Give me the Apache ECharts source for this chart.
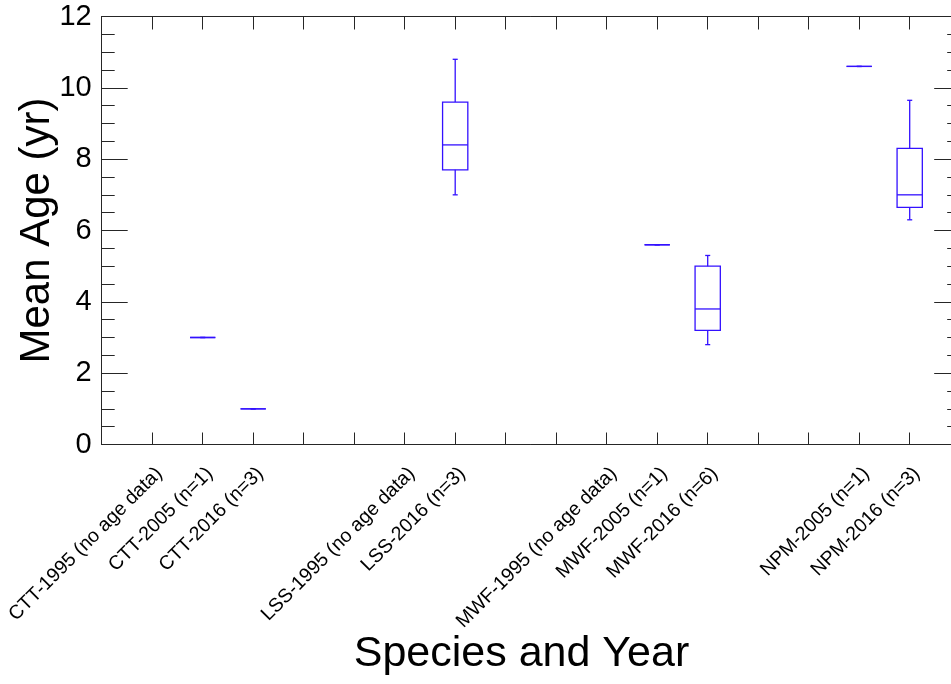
<!DOCTYPE html>
<html>
<head>
<meta charset="utf-8">
<title>Mean Age by Species and Year</title>
<script src="https://cdn.jsdelivr.net/npm/echarts@6/dist/echarts.min.js"></script>
<style>
  html, body { margin: 0; padding: 0; background: #fff; overflow: hidden; }
  /* The plot frame runs slightly past the right edge of the window. */
  #main { width: 980px; height: 684px; }
</style>
</head>
<body>
<div id="main"></div>
<script>
// Slots along the x axis (0..17); blank slots separate the species groups.
const slotLabels = [
  '',
  'CTT-1995 (no age data)', 'CTT-2005 (n=1)', 'CTT-2016 (n=3)',
  '', '',
  'LSS-1995 (no age data)', 'LSS-2016 (n=3)',
  '', '',
  'MWF-1995 (no age data)', 'MWF-2005 (n=1)', 'MWF-2016 (n=6)',
  '', '',
  'NPM-2005 (n=1)', 'NPM-2016 (n=3)',
  ''
];

// Groups that have age data, with their box-plot statistics (years).
const groups    = ['CTT-2005 (n=1)', 'CTT-2016 (n=3)', 'LSS-2016 (n=3)', 'MWF-2005 (n=1)', 'MWF-2016 (n=6)', 'NPM-2005 (n=1)', 'NPM-2016 (n=3)'];
const ageMin    = [3.0, 1.0,  7.0, 5.6, 2.8, 10.6, 6.3];
const ageQ1     = [3.0, 1.0,  7.7, 5.6, 3.2, 10.6, 6.65];
const ageMedian = [3.0, 1.0,  8.4, 5.6, 3.8, 10.6, 7.0];
const ageQ3     = [3.0, 1.0,  9.6, 5.6, 5.0, 10.6, 8.3];
const ageMax    = [3.0, 1.0, 10.8, 5.6, 5.3, 10.6, 9.65];

// Y axis range and tick step.
const yMin = 0, yMax = 12, yStep = 2;

const FONT = "'Liberation Sans', Arial, Helvetica, sans-serif";
const AXIS_COLOR = '#262626';
const BOX_COLOR = '#3311ff';
const BOX_WIDTH = 0.5;   // in x-axis units
const CAP_WIDTH = 0.1;   // whisker cap, in x-axis units

const boxData = groups.map((g, i) => [
  slotLabels.indexOf(g), ageMin[i], ageQ1[i], ageMedian[i], ageQ3[i], ageMax[i]
]);

function renderBox(params, api) {
  const x = api.value(0);
  const lo = api.coord([x, api.value(1)]);
  const q1 = api.coord([x, api.value(2)]);
  const md = api.coord([x, api.value(3)]);
  const q3 = api.coord([x, api.value(4)]);
  const hi = api.coord([x, api.value(5)]);
  const half = api.size([BOX_WIDTH, 0])[0] / 2;
  const cap = api.size([CAP_WIDTH, 0])[0] / 2;
  const cx = md[0];
  const style = { stroke: BOX_COLOR, lineWidth: 1.3, fill: null };
  return {
    type: 'group',
    children: [
      { type: 'line', shape: { x1: cx, y1: hi[1], x2: cx, y2: q3[1] }, style },
      { type: 'line', shape: { x1: cx, y1: q1[1], x2: cx, y2: lo[1] }, style },
      { type: 'line', shape: { x1: cx - cap, y1: hi[1], x2: cx + cap, y2: hi[1] }, style },
      { type: 'line', shape: { x1: cx - cap, y1: lo[1], x2: cx + cap, y2: lo[1] }, style },
      { type: 'rect', shape: { x: cx - half, y: q3[1], width: 2 * half, height: q1[1] - q3[1] }, style },
      { type: 'line', shape: { x1: cx - half, y1: md[1], x2: cx + half, y2: md[1] }, style }
    ]
  };
}

const axisLine = { show: true, onZero: false, lineStyle: { color: AXIS_COLOR, width: 1 } };
const tickStyle = { color: AXIS_COLOR, width: 1 };

const chart = echarts.init(document.getElementById('main'), null, { renderer: 'canvas' });

chart.setOption({
  animation: false,
  backgroundColor: '#fff',
  textStyle: { fontFamily: FONT },
  grid: { left: 101.7, top: 16.5, right: 19.8, bottom: 239.5 },
  xAxis: [
    {
      type: 'value', position: 'bottom',
      min: 0, max: slotLabels.length - 1, interval: 1,
      axisLine,
      axisTick: { show: true, inside: true, length: 12, lineStyle: tickStyle },
      axisLabel: {
        show: true,
        formatter: v => slotLabels[v] || '',
        rotate: 45, align: 'right', verticalAlign: 'top',
        margin: 19, fontSize: 19.5, color: '#000', fontFamily: FONT
      },
      splitLine: { show: false },
      name: 'Species and Year', nameLocation: 'middle', nameGap: 188,
      nameMoveOverlap: false,
      nameTextStyle: { fontSize: 43, color: '#000', fontFamily: FONT, padding: [0, 19, 0, 0] }
    },
    {
      type: 'value', position: 'top',
      min: 0, max: slotLabels.length - 1, interval: 1,
      axisLine,
      axisTick: { show: true, inside: true, length: 13, lineStyle: tickStyle },
      axisLabel: { show: false },
      splitLine: { show: false }
    }
  ],
  yAxis: [
    {
      type: 'value', position: 'left',
      min: yMin, max: yMax, interval: yStep,
      axisLine,
      axisTick: { show: true, inside: true, length: 26, lineStyle: tickStyle },
      minorTick: { show: true, splitNumber: 4, length: 13, lineStyle: tickStyle },
      axisLabel: { show: true, fontSize: 29, margin: 10, padding: [6, 0, 0, 0], color: '#000', fontFamily: FONT },
      splitLine: { show: false },
      minorSplitLine: { show: false },
      name: 'Mean Age (yr)', nameLocation: 'middle', nameGap: 43,
      nameMoveOverlap: false,
      nameTextStyle: { fontSize: 42, color: '#000', fontFamily: FONT }
    },
    {
      type: 'value', position: 'right',
      min: yMin, max: yMax, interval: yStep,
      axisLine,
      axisTick: { show: true, inside: true, length: 26, lineStyle: tickStyle },
      minorTick: { show: true, splitNumber: 4, length: 13, lineStyle: tickStyle },
      axisLabel: { show: false },
      splitLine: { show: false },
      minorSplitLine: { show: false }
    }
  ],
  series: [
    {
      type: 'custom',
      name: 'Mean Age',
      xAxisIndex: 0, yAxisIndex: 0,
      renderItem: renderBox,
      encode: { x: 0, y: [1, 2, 3, 4, 5] },
      data: boxData,
      clip: false
    }
  ]
});
</script>
</body>
</html>
